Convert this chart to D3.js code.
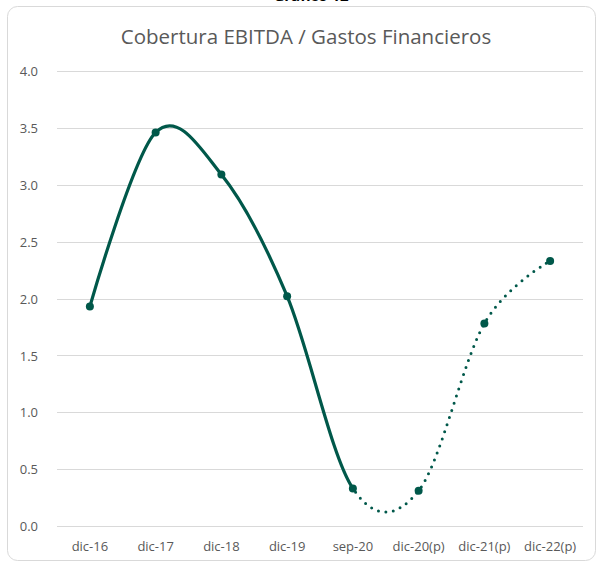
<!DOCTYPE html>
<html>
  <head>
    <meta charset="utf-8" />
    <title>Cobertura EBITDA / Gastos Financieros</title>
    <style>
      body { margin: 0; background: #fff; }
      svg { display: block; }
    </style>
  </head>
  <body>
    <div id="plot"></div>
    <script src="https://d3js.org/d3.v7.min.js"></script>
    <script>
      // data
      const periods = ["dic-16", "dic-17", "dic-18", "dic-19", "sep-20", "dic-20(p)", "dic-21(p)", "dic-22(p)"];
      const coverage = [1.93, 3.46, 3.09, 2.02, 0.33, 0.31, 1.78, 2.33];
      const yTicks = [0, 0.5, 1, 1.5, 2, 2.5, 3, 3.5, 4];
      const firstProjected = 4; // dotted from sep-20 onward

      const width = 597, height = 563;
      const margin = { top: 71, right: 14, bottom: 37, left: 57 };
      const color = "#00584a";
      const font = "'Open Sans', sans-serif";

      const svg = d3.select("#plot").append("svg")
        .attr("width", width)
        .attr("height", height);

      // chart frame
      svg.append("rect")
        .attr("x", 7.5).attr("y", 6.5)
        .attr("width", 588).attr("height", 554)
        .attr("rx", 10)
        .attr("fill", "#fff")
        .attr("stroke", "#d9d9d9");

      // heading cut off by the page edge
      svg.append("text")
        .attr("x", 311).attr("y", 1)
        .attr("text-anchor", "middle")
        .style("font", `bold 15px ${font}`)
        .attr("fill", "#000")
        .text("Gráfico 12");

      svg.append("text")
        .attr("x", 306).attr("y", 44)
        .attr("text-anchor", "middle")
        .style("font", `20.5px ${font}`)
        .attr("fill", "#595959")
        .text("Cobertura EBITDA / Gastos Financieros");

      const x = d3.scaleBand()
        .domain(periods)
        .range([margin.left, width - margin.right]);

      const y = d3.scaleLinear()
        .domain([0, 4])
        .range([height - margin.bottom, margin.top]);

      // gridlines
      svg.append("g")
        .selectAll("line")
        .data(yTicks)
        .join("line")
        .attr("x1", margin.left).attr("x2", width - margin.right)
        .attr("y1", d => Math.round(y(d)) + 0.5)
        .attr("y2", d => Math.round(y(d)) + 0.5)
        .attr("stroke", "#d9d9d9");

      // y axis labels
      const yAxis = svg.append("g")
        .attr("transform", `translate(${margin.left - 19}, 0.5)`)
        .call(d3.axisLeft(y).tickValues(yTicks).tickFormat(d3.format(".1f")).tickSize(0).tickPadding(0));
      yAxis.select(".domain").remove();
      yAxis.selectAll("text")
        .style("font", `13px ${font}`)
        .attr("fill", "#595959");

      // x axis labels
      const xAxis = svg.append("g")
        .attr("transform", `translate(0, ${height - margin.bottom})`)
        .call(d3.axisBottom(x).tickSize(0).tickPadding(16));
      xAxis.select(".domain").remove();
      xAxis.selectAll("text")
        .style("font", `13px ${font}`)
        .attr("fill", "#595959");

      const pts = periods.map((p, i) => [x(p) + x.bandwidth() / 2, y(coverage[i])]);
      const line = d3.line().curve(d3.curveCardinal.tension(0));
      const splitX = pts[firstProjected][0];

      const defs = svg.append("defs");
      defs.append("clipPath").attr("id", "clip-actual")
        .append("rect").attr("x", 0).attr("y", 0).attr("width", splitX).attr("height", height);
      defs.append("clipPath").attr("id", "clip-proj")
        .append("rect").attr("x", splitX).attr("y", 0).attr("width", width - splitX).attr("height", height);

      svg.append("path")
        .datum(pts)
        .attr("d", line)
        .attr("clip-path", "url(#clip-actual)")
        .attr("fill", "none")
        .attr("stroke", color)
        .attr("stroke-width", 3.2)
        .attr("stroke-linecap", "round");

      svg.append("path")
        .datum(pts)
        .attr("d", line)
        .attr("clip-path", "url(#clip-proj)")
        .attr("fill", "none")
        .attr("stroke", color)
        .attr("stroke-width", 3)
        .attr("stroke-linecap", "round")
        .attr("stroke-dasharray", "0 7.5");

      // markers
      svg.append("g")
        .selectAll("circle")
        .data(coverage)
        .join("circle")
        .attr("cx", (d, i) => x(periods[i]) + x.bandwidth() / 2)
        .attr("cy", d => y(d))
        .attr("r", 4)
        .attr("fill", color);
    </script>
  </body>
</html>
